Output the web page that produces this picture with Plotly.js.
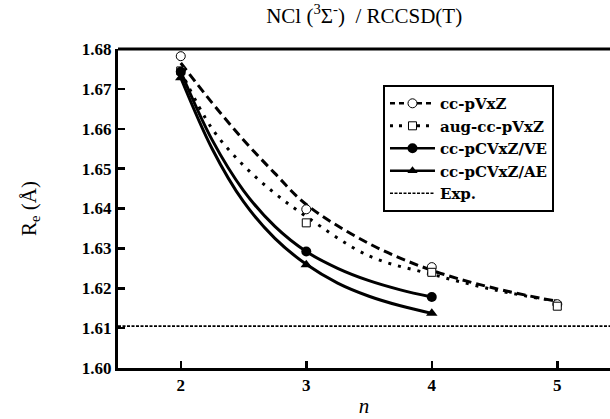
<!DOCTYPE html>
<html>
<head>
<meta charset="utf-8">
<script src="https://cdn.plot.ly/plotly-3.0.1.min.js"></script>
<style>html,body{margin:0;padding:0;background:#fff;overflow:hidden}#chart{width:610px;height:419px}</style>
</head>
<body>
<div id="chart"></div>
<script>
// Computed points (n = cardinal number of basis set)
const nPVxZ = [2, 3, 4, 5];
const rePVxZ = [1.6782, 1.6398, 1.6253, 1.6160];
const nAugPVxZ = [2, 3, 4, 5];
const reAugPVxZ = [1.6745, 1.6364, 1.6240, 1.6155];
const nPCVxZVE = [2, 3, 4];
const rePCVxZVE = [1.6743, 1.6292, 1.6178];
const nPCVxZAE = [2, 3, 4];
const rePCVxZAE = [1.6728, 1.6259, 1.6137];
const reExp = 1.6105;

// Fitted curves
const fitNLong = [2, 2.25, 2.5, 2.75, 3, 3.5, 4, 4.5, 5];
const fitPVxZ = [1.6765, 1.6665, 1.6572, 1.6488, 1.6410, 1.6312, 1.6245, 1.6200, 1.6167];
const fitAugPVxZ = [1.6745, 1.6600, 1.6508, 1.6438, 1.6380, 1.6281, 1.6235, 1.6196, 1.6167];
const fitNShort = [2, 2.25, 2.5, 2.75, 3, 3.25, 3.5, 3.75, 4];
const fitPCVxZVE = [1.6743, 1.6572, 1.6445, 1.6355, 1.6292, 1.6250, 1.6219, 1.6196, 1.6178];
const fitPCVxZAE = [1.6728, 1.6550, 1.6417, 1.6325, 1.6260, 1.6213, 1.6180, 1.6156, 1.6137];

const names = ['cc-pVxZ', 'aug-cc-pVxZ', 'cc-pCVxZ/VE', 'cc-pCVxZ/AE', 'Exp.'];
const xTicks = [2, 3, 4, 5];
const yTicks = [1.60, 1.61, 1.62, 1.63, 1.64, 1.65, 1.66, 1.67, 1.68];

const DASH = '9px,5px', DOT = '3px,7px', EXPDASH = '3px,1.5px';
const blk = '#000';

const traces = [
  {x: fitNLong, y: fitPVxZ, mode: 'lines', line: {color: blk, width: 3, dash: DASH, shape: 'spline'}, showlegend: false, hoverinfo: 'skip'},
  {x: fitNLong, y: fitAugPVxZ, mode: 'lines', line: {color: blk, width: 3, dash: DOT, shape: 'spline'}, showlegend: false, hoverinfo: 'skip'},
  {x: fitNShort, y: fitPCVxZVE, mode: 'lines', line: {color: blk, width: 3, shape: 'spline'}, showlegend: false, hoverinfo: 'skip'},
  {x: fitNShort, y: fitPCVxZAE, mode: 'lines', line: {color: blk, width: 3, shape: 'spline'}, showlegend: false, hoverinfo: 'skip'},
  {x: nPVxZ, y: rePVxZ, mode: 'markers', marker: {symbol: 'circle', size: 9, color: '#fff', line: {color: blk, width: 1}}, showlegend: false},
  {x: nAugPVxZ, y: reAugPVxZ, mode: 'markers', marker: {symbol: 'square', size: 8, color: '#fff', line: {color: blk, width: 1}}, showlegend: false},
  {x: nPCVxZVE, y: rePCVxZVE, mode: 'markers', marker: {symbol: 'circle', size: 10, color: blk}, showlegend: false},
  {x: nPCVxZAE, y: rePCVxZAE, mode: 'markers', marker: {symbol: 'triangle-up', size: 10, color: blk}, showlegend: false},
  // legend entries
  {x: [null], y: [null], name: names[0], mode: 'lines+markers', line: {color: blk, width: 2.5, dash: '5px,4px'}, marker: {symbol: 'circle', size: 9, color: '#fff', line: {color: blk, width: 1}}},
  {x: [null], y: [null], name: names[1], mode: 'lines+markers', line: {color: blk, width: 3, dash: '3px,6px'}, marker: {symbol: 'square', size: 8, color: '#fff', line: {color: blk, width: 1}}},
  {x: [null], y: [null], name: names[2], mode: 'lines+markers', line: {color: blk, width: 2.5}, marker: {symbol: 'circle', size: 10, color: blk}},
  {x: [null], y: [null], name: names[3], mode: 'lines+markers', line: {color: blk, width: 2.5}, marker: {symbol: 'triangle-up', size: 9, color: blk}},
  {x: [null], y: [null], name: names[4], mode: 'lines', line: {color: blk, width: 1.5, dash: EXPDASH}}
];

const serif = 'Liberation Serif, Times New Roman, serif';
const wideSerif = 'DejaVu Serif, serif';
const layout = {
  width: 610, height: 419,
  margin: {l: 118, r: 0, t: 49, b: 51},
  paper_bgcolor: '#fff', plot_bgcolor: '#fff',
  showlegend: true,
  title: {text: 'NCl (<sup>3</sup>Σ<sup>-</sup>)  / RCCSD(T)', font: {family: serif, size: 21, color: blk}, x: 0.597, xanchor: 'center', y: 0.962, yanchor: 'middle'},
  xaxis: {
    range: [1.5, 5.42], tickvals: xTicks, ticktext: xTicks.map(String),
    ticks: 'inside', ticklen: 7, tickwidth: 2.5, tickcolor: blk,
    showline: true, linewidth: 3, linecolor: blk, mirror: false,
    showgrid: false, zeroline: false,
    tickfont: {family: serif, size: 17, color: blk, weight: 'bold'},
    title: {text: '<i>n</i>', font: {family: serif, size: 21, color: blk}, standoff: 4}
  },
  yaxis: {
    range: [1.60, 1.68], tickvals: yTicks, ticktext: yTicks.map(v => v.toFixed(2)),
    ticks: 'inside', ticklen: 7, tickwidth: 2.5, tickcolor: blk,
    showline: true, linewidth: 3, linecolor: blk, mirror: false,
    showgrid: false, zeroline: false,
    tickfont: {family: serif, size: 17, color: blk, weight: 'bold'},
    title: {text: 'R<sub>e</sub> (Å)', font: {family: serif, size: 21, color: blk}, standoff: 40}
  },
  shapes: [
    {type: 'line', xref: 'paper', yref: 'y', x0: 0, x1: 1, y0: reExp, y1: reExp, line: {color: blk, width: 1.8, dash: EXPDASH}, layer: 'below'},
    {type: 'line', xref: 'paper', yref: 'paper', x0: 0, x1: 1, y0: 1, y1: 1, line: {color: blk, width: 3}},
    {type: 'rect', xref: 'paper', yref: 'paper', x0: 0.98, x1: 1.02, y0: -0.16, y1: -0.012, fillcolor: '#fff', line: {width: 0}, layer: 'above'}
  ],
  legend: {
    x: 0.5386, y: 0.887, xanchor: 'left', yanchor: 'top',
    bgcolor: '#fff', bordercolor: blk, borderwidth: 2,
    font: {family: wideSerif, size: 15, color: blk, weight: 'bold'},
    itemwidth: 45, tracegroupgap: 0
  }
};

Plotly.newPlot('chart', traces, layout, {displayModeBar: false, staticPlot: true});
</script>
</body>
</html>
